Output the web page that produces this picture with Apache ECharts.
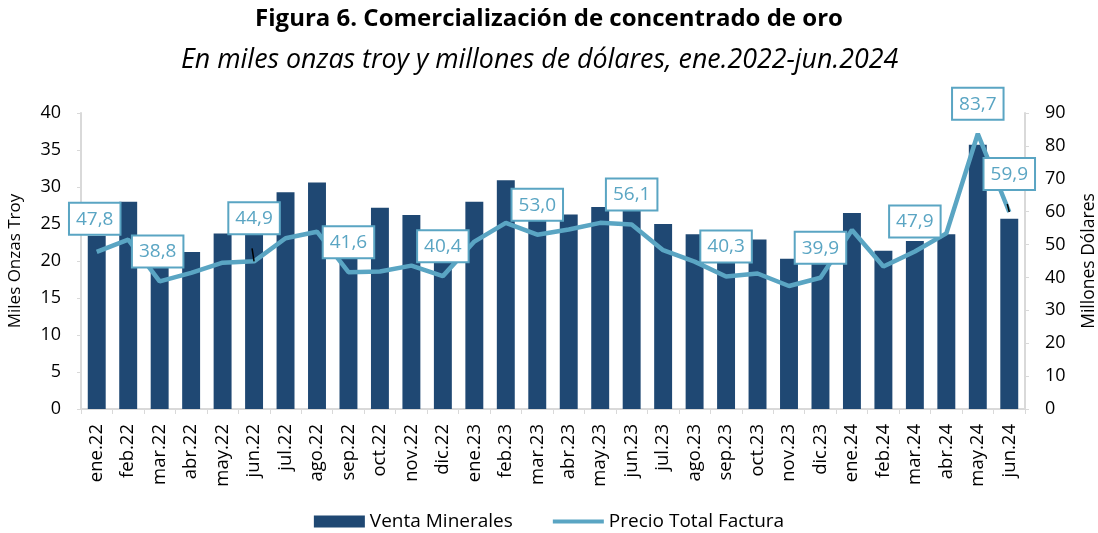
<!DOCTYPE html>
<html><head><meta charset="utf-8">
<script src="https://cdn.jsdelivr.net/npm/echarts@6/dist/echarts.min.js"></script>
<style>html,body{margin:0;padding:0;background:#fff}#c{width:1098px;height:533px}</style>
</head><body><div id="c"></div>
<script>
const categories = ['ene.22','feb.22','mar.22','abr.22','may.22','jun.22','jul.22','ago.22','sep.22','oct.22','nov.22','dic.22',
  'ene.23','feb.23','mar.23','abr.23','may.23','jun.23','jul.23','ago.23','sep.23','oct.23','nov.23','dic.23',
  'ene.24','feb.24','mar.24','abr.24','may.24','jun.24'];
const ventaMinerales = [23.4,28.0,19.3,21.2,23.7,24.0,29.3,30.6,21.0,27.2,26.2,20.5,
  28.0,30.9,25.8,26.3,27.3,27.0,25.0,23.6,20.0,22.9,20.3,20.5,
  26.5,21.4,22.7,23.6,35.7,25.7];
const precioTotalFactura = [47.8,51.5,38.8,41.4,44.5,44.9,51.9,53.9,41.6,41.8,43.6,40.4,
  50.9,56.6,53.0,54.6,56.6,56.1,48.3,44.8,40.3,41.2,37.4,39.9,
  54.4,43.3,47.9,53.4,83.7,59.9];
const labeledMonths = ['ene.22','mar.22','jun.22','sep.22','dic.22','mar.23','jun.23','sep.23','dic.23','mar.24','may.24','jun.24'];
const leftTicks = {min:0, max:40, interval:5};
const rightTicks = {min:0, max:90, interval:10};

const FONT = 'Open Sans';
const barColor = '#1f4873';
const lineColor = '#5aa5c3';
const labelOffsets = {'ene.22':[-2,-3],'mar.22':[-2,0],'jun.22':[0,-13],'jun.24':[0,-8]};
const leaderMonths = ['jun.22','jun.24'];

const lineData = precioTotalFactura.map((v,i) => {
  const m = categories[i];
  if (!labeledMonths.includes(m)) return v;
  return {
    value: v,
    label: {
      show: true, position: 'top', distance: 15,
      offset: labelOffsets[m] || [0,0],
      formatter: p => p.value.toFixed(1).replace('.', ','),
      color: lineColor, fontFamily: FONT, fontSize: 19, lineHeight: 21,
      backgroundColor: '#fff', borderColor: lineColor, borderWidth: 2,
      padding: [5, 6, 4, 6]
    },
    labelLine: leaderMonths.includes(m) ? {show: true, lineStyle: {color: '#000', width: 1.5}} : {show: false}
  };
});

const chart = echarts.init(document.getElementById('c'), null, {renderer: 'canvas'});
chart.setOption({
  animation: false,
  textStyle: {fontFamily: FONT},
  title: [
    {text: 'Figura 6. Comercialización de concentrado de oro', left: 'center', top: 2,
     textStyle: {fontFamily: FONT, fontWeight: 'bold', fontSize: 24, color: '#000'}},
    {text: 'En miles onzas troy y millones de dólares, ene.2022-jun.2024', left: 176, top: 42,
     textStyle: {fontFamily: FONT, fontStyle: 'italic', fontWeight: 'normal', fontSize: 26.8, color: '#000'}}
  ],
  grid: {left: 81, right: 73, top: 113, bottom: 124, outerBoundsMode: 'none', containLabel: false},
  legend: {
    bottom: -3, left: 'center', itemWidth: 51, itemHeight: 12, itemGap: 40,
    textStyle: {fontFamily: FONT, fontSize: 19, color: '#000'},
    data: [{name: 'Venta Minerales', icon: 'rect'},
           {name: 'Precio Total Factura', icon: 'path://M0,0L51,0L51,4L0,4Z', itemStyle: {color: lineColor}}]
  },
  xAxis: {
    type: 'category', data: categories,
    axisLine: {lineStyle: {color: '#d9d9d9', width: 2}},
    axisTick: {show: true, alignWithLabel: false, length: 5, lineStyle: {color: '#d9d9d9'}},
    axisLabel: {rotate: 90, margin: 15, color: '#000', fontFamily: FONT, fontSize: 18.5, interval: 0}
  },
  yAxis: [
    {type: 'value', min: leftTicks.min, max: leftTicks.max, interval: leftTicks.interval,
     name: 'Miles Onzas Troy', nameLocation: 'middle', nameGap: 57, nameRotate: 90,
     nameTextStyle: {fontFamily: FONT, fontSize: 17, color: '#000'},
     splitLine: {show: false},
     axisLine: {show: true, lineStyle: {color: '#d9d9d9', width: 2}},
     axisTick: {show: true, length: 4, lineStyle: {color: '#d9d9d9'}},
     axisLabel: {margin: 20, color: '#000', fontFamily: FONT, fontSize: 18}},
    {type: 'value', min: rightTicks.min, max: rightTicks.max, interval: rightTicks.interval,
     name: 'Millones Dólares', nameLocation: 'middle', nameGap: 55, nameRotate: 90,
     nameTextStyle: {fontFamily: FONT, fontSize: 17.5, color: '#000'},
     splitLine: {show: false},
     axisLine: {show: true, lineStyle: {color: '#d9d9d9', width: 2}},
     axisTick: {show: true, length: 4, lineStyle: {color: '#d9d9d9'}},
     axisLabel: {margin: 20, color: '#000', fontFamily: FONT, fontSize: 18}}
  ],
  series: [
    {name: 'Venta Minerales', type: 'bar', data: ventaMinerales, yAxisIndex: 0,
     barCategoryGap: '43%', itemStyle: {color: barColor}},
    {name: 'Precio Total Factura', type: 'line', data: lineData, yAxisIndex: 1,
     symbol: 'circle', symbolSize: 0, showSymbol: true,
     lineStyle: {color: lineColor, width: 4.5},
     itemStyle: {color: lineColor}, z: 5}
  ]
});
</script></body></html>
